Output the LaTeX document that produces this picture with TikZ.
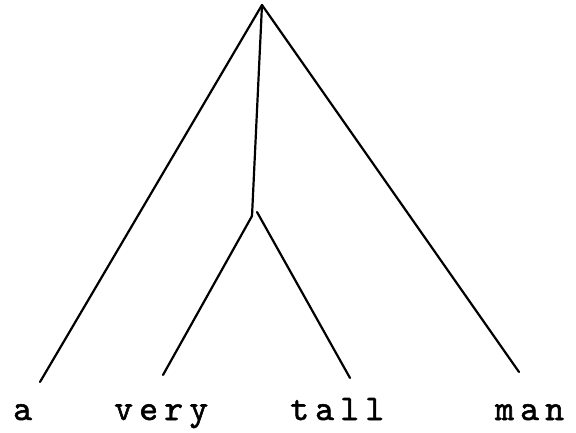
\documentclass[tikz,border=0pt]{standalone}
\usepackage{fontspec}
\newfontfamily\treefont{lmmono10-regular.otf}[LetterSpace=17,FakeBold=1.5]
\tikzset{
  branch/.style={draw=black,line width=2.2pt,line cap=round},
  leaf/.style={font=\treefont\fontsize{36}{38}\selectfont,
    inner sep=0pt,anchor=base west}
}
\begin{document}
\begin{tikzpicture}[x=1pt,y=-1pt]
      \useasboundingbox (0,0) rectangle (576,433);
      \begin{scope}
        \coordinate (root) at (262,5);
        \coordinate (np) at (252,216);
        \coordinate (aEnd) at (40,382);
        \coordinate (veryEnd) at (163,375);
        \coordinate (tallEnd) at (350,378);
        \coordinate (manEnd) at (519,372);
        \node[leaf] (a) at (13,420) {a};
        \node[leaf] (very) at (114,420) {very};
        \node[leaf] (tall) at (290,420) {tall};
        \node[leaf] (man) at (495,420) {man};
        \draw[branch] (root) -- (aEnd);
        \draw[branch] (root) -- (np);
        \draw[branch] (root) -- (manEnd);
        \draw[branch] (np) -- (veryEnd);
        \draw[branch] ([xshift=5pt,yshift=4pt]np) -- (tallEnd);
      \end{scope}
\end{tikzpicture}
\end{document}
